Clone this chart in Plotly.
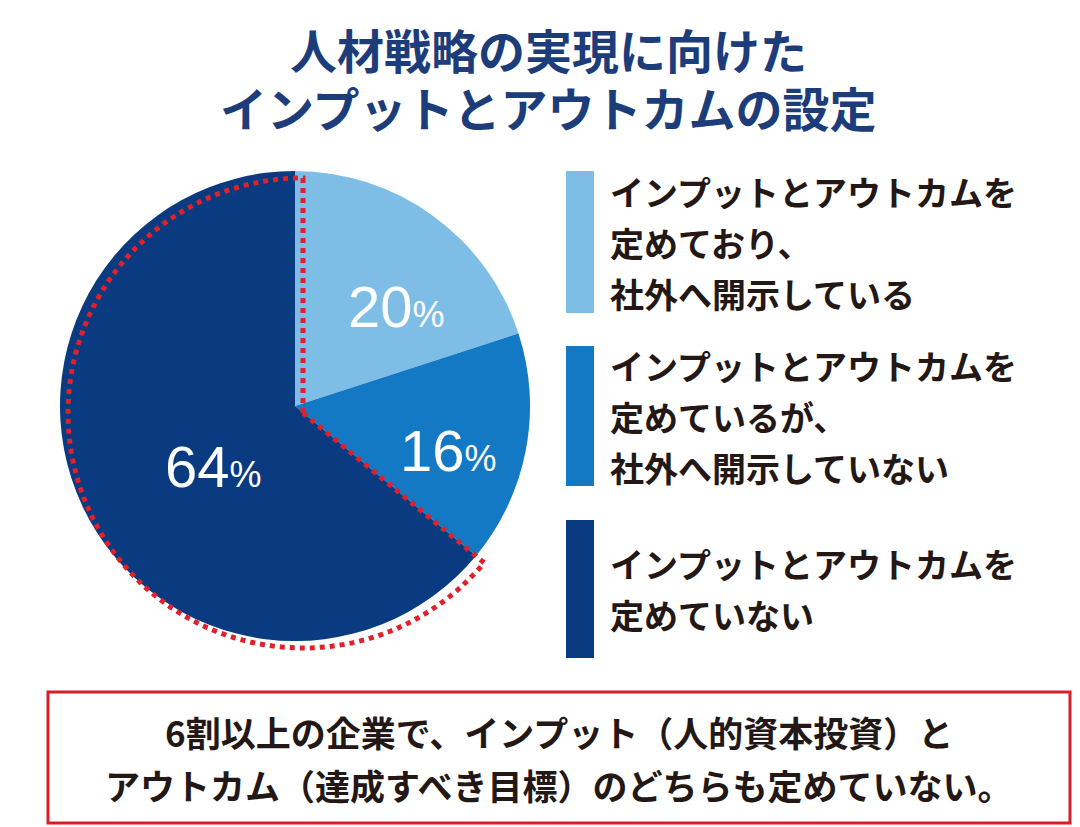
import math
import plotly.graph_objects as go

labels = [["インプットとアウトカムを", "定めており、", "社外へ開示している"],
          ["インプットとアウトカムを", "定めているが、", "社外へ開示していない"],
          ["インプットとアウトカムを", "定めていない"]]
values = [20, 16, 64]
colors = ["#7dbde6", "#1379c4", "#0a3a80"]
label_pos = [(388, 298), (440, 442), (205, 458)]
title_lines = ["人材戦略の実現に向けた", "インプットとアウトカムの設定"]
note_lines = ["6割以上の企業で、インプット（人的資本投資）と",
              "アウトカム（達成すべき目標）のどちらも定めていない。"]

W, H = 1080, 827
F = "Noto Sans CJK JP"
cx, cy, r = 295, 405, 235
dx, dy = -8, -7

fig = go.Figure()
fig.add_trace(go.Pie(values=values, marker=dict(colors=colors, line=dict(width=0)),
                     sort=False, direction="clockwise", rotation=0, textinfo="none",
                     hoverinfo="skip", showlegend=False,
                     domain=dict(x=[(cx - r + dx) / W, (cx + r + dx) / W],
                                 y=[1 - (cy + r + dy) / H, 1 - (cy - r + dy) / H])))
fig.update_xaxes(range=[0, W], visible=False, domain=[0, 1])
fig.update_yaxes(range=[H, 0], visible=False, domain=[0, 1])
fig.add_trace(go.Scatter(x=[0], y=[0], mode="markers", marker=dict(opacity=0), hoverinfo="skip", showlegend=False))

# dotted outline of the largest slice (as a shape, drawn above the pie)
tot = sum(values)
start = sum(values[:2]) / tot * 360
pts = [(cx, cy)]
n = 120
for i in range(n + 1):
    a = math.radians(start + (360 - start) * i / n)
    pts.append((cx + r * math.sin(a), cy - r * math.cos(a)))
path = "M " + " L ".join(f"{x:.1f},{y:.1f}" for x, y in pts) + " Z"
fig.add_shape(type="path", path=path, xref="x", yref="y", layer="above",
              line=dict(color="#e0202a", width=5, dash="dot"), fillcolor="rgba(0,0,0,0)")

# percent labels
for v, (x, y) in zip(values, label_pos):
    fig.add_annotation(x=x, y=y, xref="x", yref="y", showarrow=False,
                       text=f"{v}<span style='font-size:36px'>%</span>",
                       font=dict(family="Liberation Sans", size=58, color="white"))

# legend
boxes = [(163, 305), (338, 478), (512, 650)]
for (y0, y1), c, lab in zip(boxes, colors, labels):
    fig.add_shape(type="rect", xref="x", yref="y", x0=558, x1=586, y0=y0, y1=y1,
                  fillcolor=c, line=dict(width=0))
    top = (y0 + y1) / 2 - (len(lab) - 1) * 51 / 2
    for j, line in enumerate(lab):
        fig.add_annotation(x=600, y=top + 51 * j, xref="x", yref="y", xanchor="left", yanchor="middle",
                           showarrow=False, text=f"<b>{line}</b>",
                           font=dict(family=F, size=34, color="#231815"))

# title
for i, t in enumerate(title_lines):
    fig.add_annotation(x=540, y=40 + 58 * i, xref="x", yref="y", showarrow=False,
                       text=f"<b>{t}</b>", font=dict(family=F, size=47, color="#1c3d7a"))

# note box
fig.add_shape(type="rect", xref="x", yref="y", x0=40, x1=1062, y0=684, y1=815,
              line=dict(color="#d81e28", width=3), fillcolor="rgba(0,0,0,0)")
for i, t in enumerate(note_lines):
    fig.add_annotation(x=551, y=723 + 53 * i, xref="x", yref="y", showarrow=False,
                       text=f"<b>{t}</b>", font=dict(family=F, size=35, color="#231815"))

fig.update_layout(width=W, height=H, margin=dict(l=0, r=0, t=0, b=0),
                  paper_bgcolor="white", plot_bgcolor="rgba(0,0,0,0)")
fig.write_html("out.html")
